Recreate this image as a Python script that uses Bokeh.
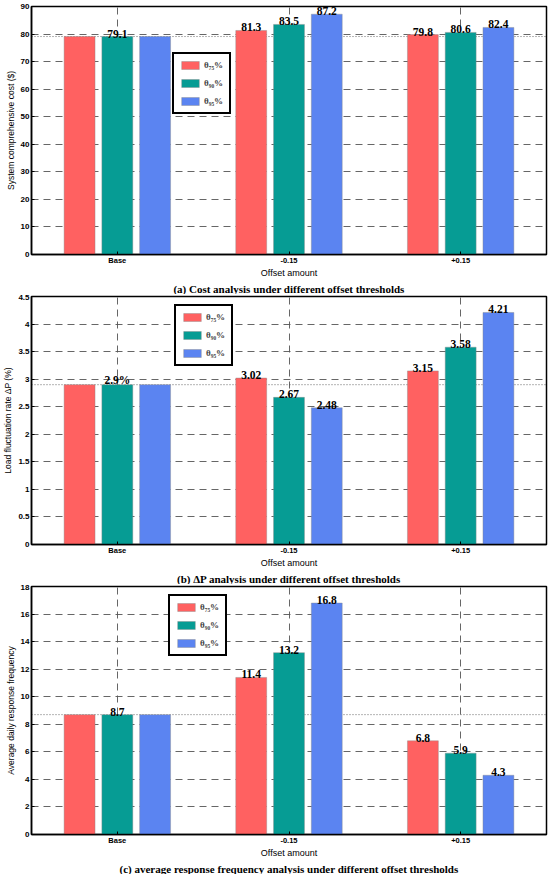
from bokeh.plotting import figure
from bokeh.layouts import column
from bokeh.models import (FixedTicker, Span, Title, Legend, LegendItem,
                          NumeralTickFormatter, ColumnDataSource)
from bokeh.embed import file_html
from bokeh.resources import INLINE

# ---------------- data ----------------
categories = ["Base", "-0.15", "+0.15"]
series_names = ["θ₇₅%", "θ₉₀%", "θ₉₅%"]
series_colors = ["#FF6161", "#069C94", "#5B84F1"]

cost_75 = [79.1, 81.3, 79.8]
cost_90 = [79.1, 83.5, 80.6]
cost_95 = [79.1, 87.2, 82.4]
cost_labels = [["", "79.1", ""], ["81.3", "83.5", "87.2"], ["79.8", "80.6", "82.4"]]
cost_ticks = [0, 10, 20, 30, 40, 50, 60, 70, 80, 90]

dp_75 = [2.9, 3.02, 3.15]
dp_90 = [2.9, 2.67, 3.58]
dp_95 = [2.9, 2.48, 4.21]
dp_labels = [["", "2.9%", ""], ["3.02", "2.67", "2.48"], ["3.15", "3.58", "4.21"]]
dp_ticks = [0, 0.5, 1, 1.5, 2, 2.5, 3, 3.5, 4, 4.5]

freq_75 = [8.7, 11.4, 6.8]
freq_90 = [8.7, 13.2, 5.9]
freq_95 = [8.7, 16.8, 4.3]
freq_labels = [["", "8.7", ""], ["11.4", "13.2", "16.8"], ["6.8", "5.9", "4.3"]]
freq_ticks = [0, 2, 4, 6, 8, 10, 12, 14, 16, 18]

SANS = "Liberation Sans"
SERIF = "Liberation Serif"
BAR_W = 0.18
OFFSETS = [-0.22, 0.0, 0.22]
FRAME_W = 515
FRAME_H = 248


def panel(series, labels, ticks, ylabel, caption, top, legend_xy):
    ymax = ticks[-1]
    p = figure(frame_width=FRAME_W, frame_height=FRAME_H, x_range=(0.5, 3.5),
               y_range=(0, ymax), output_backend="svg", toolbar_location=None,
               min_border_left=29, min_border_right=4, min_border_top=top,
               min_border_bottom=0)
    p.background_fill_color = "white"
    p.border_fill_color = "white"
    p.outline_line_color = "black"
    p.outline_line_width = 1.5
    p.outline_line_alpha = 1

    # grids
    p.xgrid.ticker = FixedTicker(ticks=[1, 2, 3])
    p.ygrid.ticker = FixedTicker(ticks=ticks)
    for g in (p.xgrid, p.ygrid):
        g.grid_line_color = "#555555"
        g.grid_line_dash = "7 5"
        g.grid_line_width = 1
        g.grid_line_alpha = 0.9

    # base reference dotted line
    p.add_layout(Span(location=series[0][0], dimension="width", line_color="#444444",
                      line_dash="1 2", line_width=0.8, level="underlay"))

    items = []
    for i, vals in enumerate(series):
        xs = [k + 1 + OFFSETS[i] for k in range(len(categories))]
        src = ColumnDataSource(dict(x=xs, top=vals))
        r = p.vbar(x="x", top="top", width=BAR_W, source=src,
                   fill_color=series_colors[i], line_color="#8a8a8a",
                   line_width=0.6, line_alpha=0.7)
        items.append(LegendItem(label=series_names[i], renderers=[r]))
        ltxt = [labels[k][i] for k in range(len(categories))]
        lsrc = ColumnDataSource(dict(x=xs, y=vals, t=ltxt))
        p.text(x="x", y="y", text="t", source=lsrc, text_align="center",
               text_baseline="bottom", text_font=SERIF, text_font_style="bold",
               text_font_size="11.5px", text_color="black", y_offset=1)

    leg = Legend(items=items, location=legend_xy, orientation="vertical")
    leg.border_line_color = "black"
    leg.border_line_width = 2
    leg.border_line_alpha = 1
    leg.background_fill_color = "white"
    leg.background_fill_alpha = 1
    leg.label_text_font = SERIF
    leg.label_text_font_style = "bold"
    leg.label_text_font_size = "9px"
    leg.glyph_width = 22
    leg.glyph_height = 10
    leg.label_height = 12
    leg.label_standoff = 3
    leg.spacing = 6
    leg.padding = 5
    leg.margin = 0
    p.add_layout(leg)

    # axes
    p.xaxis.ticker = FixedTicker(ticks=[1, 2, 3])
    p.xaxis.major_label_overrides = {1: categories[0], 2: categories[1], 3: categories[2]}
    p.yaxis.ticker = FixedTicker(ticks=ticks)
    p.yaxis.formatter = NumeralTickFormatter(format="0.[0]")
    for ax in (p.xaxis, p.yaxis):
        ax.axis_line_color = "black"
        ax.axis_line_width = 1.5
        ax.major_tick_in = 3
        ax.major_tick_out = 0
        ax.major_tick_line_color = "black"
        ax.minor_tick_line_color = None
        ax.major_label_text_font = SANS
        ax.major_label_text_font_style = "bold"
        ax.major_label_text_color = "black"
        ax.axis_label_text_font = SANS
        ax.axis_label_text_font_style = "normal"
        ax.axis_label_text_color = "black"
    p.xaxis.axis_label_text_font_size = "9px"
    p.yaxis.axis_label_text_font_size = "8.5px"
    p.xaxis.major_label_text_font_size = "7.5px"
    p.yaxis.major_label_text_font_size = "8px"
    p.xaxis.major_label_standoff = 1
    p.yaxis.major_label_standoff = 2
    p.xaxis.axis_label = "Offset amount"
    p.yaxis.axis_label = ylabel
    p.xaxis.axis_label_standoff = 0
    p.yaxis.axis_label_standoff = 2

    p.add_layout(Title(text=caption, align="center", text_font=SERIF,
                       text_font_style="bold", text_font_size="11px",
                       text_color="black", standoff=0, offset=0,
                       text_line_height=1.0), "below")
    return p


p1 = panel([cost_75, cost_90, cost_95], cost_labels, cost_ticks,
           "System comprehensive cost ($)",
           "(a) Cost analysis under different offset thresholds",
           6, (141, 140))
p2 = panel([dp_75, dp_90, dp_95], dp_labels, dp_ticks,
           "Load fluctuation rate ΔP (%)",
           "(b) ΔP analysis under different offset thresholds",
           2, (143, 178))
p3 = panel([freq_75, freq_90, freq_95], freq_labels, freq_ticks,
           "Average daily response frequency",
           "(c) average response frequency analysis under different offset thresholds",
           2, (137, 178))

layout = column(p1, p2, p3, spacing=0)
open("out.html", "w").write(file_html(layout, INLINE))
